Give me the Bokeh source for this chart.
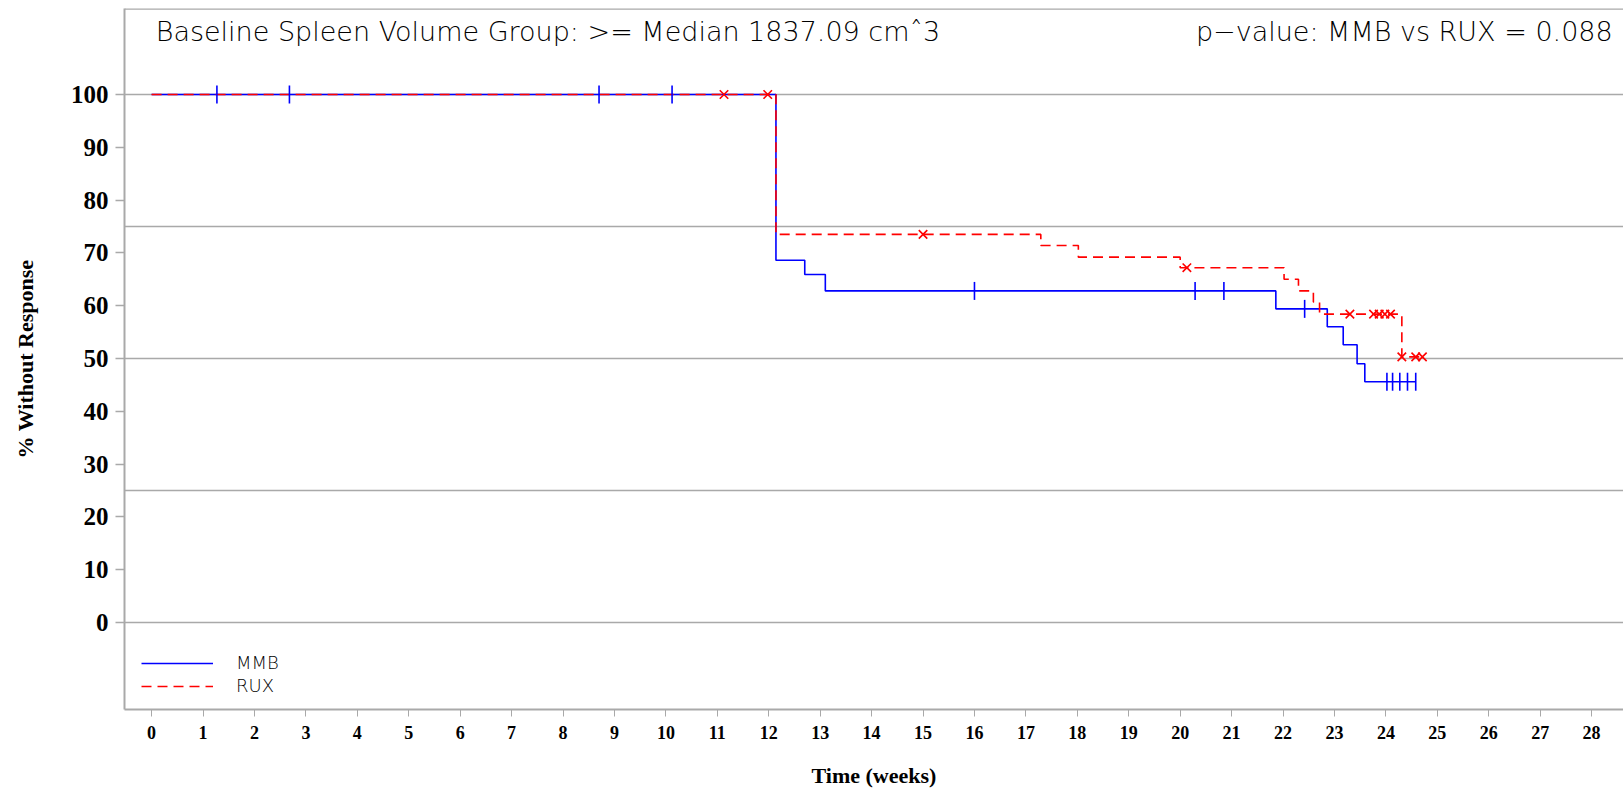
import numpy as np
from bokeh.plotting import figure
from bokeh.models import (FixedTicker, Range1d, Label, Legend, LegendItem, Span)
from bokeh.embed import file_html
from bokeh.resources import INLINE

# ---------------- data ----------------
# MMB Kaplan-Meier step curve (weeks, % without response)
mmb_time = [0, 12.14, 12.70, 13.10, 21.86, 22.86, 23.17, 23.44, 23.59, 24.58]
mmb_surv = [100, 68.6, 65.9, 62.8, 59.4, 56.0, 52.6, 49.0, 45.6, 45.6]
# MMB censored observations
mmb_cens_time = [1.27, 2.68, 8.70, 10.12, 16.0, 20.29, 20.85, 22.42,
                 24.02, 24.13, 24.27, 24.42, 24.58]
mmb_cens_surv = [100, 100, 100, 100, 62.8, 62.8, 62.8, 59.4,
                 45.6, 45.6, 45.6, 45.6, 45.6]

# RUX Kaplan-Meier step curve
rux_time = [0, 12.14, 17.29, 18.02, 20.0, 22.02, 22.30, 22.59, 22.71, 24.31, 24.71]
rux_surv = [100, 73.5, 71.4, 69.2, 67.2, 65.0, 62.8, 60.7, 58.4, 50.3, 50.3]
# RUX censored observations
rux_cens_time = [11.13, 11.98, 15.0, 20.13, 23.30, 23.76, 23.87, 23.98, 24.09,
                 24.31, 24.58, 24.71]
rux_cens_surv = [100, 100, 73.5, 67.2, 58.4, 58.4, 58.4, 58.4, 58.4,
                 50.3, 50.3, 50.3]

x_ticks = list(range(0, 29))
y_ticks = list(range(0, 101, 10))
ref_lines = [0, 25, 50, 75, 100]

title_text = "Baseline Spleen Volume Group: >= Median 1837.09 cm\u02c63"
pvalue_text = "p\u2212value: MMB vs RUX = 0.088"
x_label = "Time (weeks)"
y_label = "% Without Response"
series_names = ["MMB", "RUX"]

# ---------------- styling ----------------
GRAY = "#a9a9a9"
BLUE = "#0000ff"
RED = "#ff0000"
THIN = "DejaVu Sans ExtraLight, DejaVu Sans Light, Lato Light"
SERIF = "Liberation Serif"

x0, x1 = -0.527, 28.62
y0, y1 = -16.48, 116.29

p = figure(width=1623, height=790, output_backend="svg", toolbar_location=None,
           x_range=Range1d(x0, x1), y_range=Range1d(y0, y1),
           min_border_left=124, min_border_right=0, min_border_top=8,
           min_border_bottom=81)
p.outline_line_color = None
p.background_fill_color = "white"
p.border_fill_color = "white"

# grid: reference lines only
p.xgrid.visible = False
p.ygrid.ticker = FixedTicker(ticks=ref_lines)
p.ygrid.grid_line_color = GRAY
p.ygrid.grid_line_width = 1.5

# top border
p.add_layout(Span(location=y1, dimension="width", line_color=GRAY, line_width=2.5))

# y axis
ya = p.yaxis[0]
ya.ticker = FixedTicker(ticks=y_ticks)
ya.axis_line_color = GRAY
ya.axis_line_width = 2
ya.major_tick_line_color = GRAY
ya.major_tick_line_width = 1.5
ya.major_tick_out = 9
ya.major_tick_in = 0
ya.minor_tick_line_color = None
ya.major_label_text_font = SERIF
ya.major_label_text_font_style = "bold"
ya.major_label_text_font_size = "25px"
ya.major_label_text_color = "black"
ya.major_label_standoff = 7
ya.axis_label = y_label
ya.axis_label_text_font = SERIF
ya.axis_label_text_font_style = "bold"
ya.axis_label_text_font_size = "22px"
ya.axis_label_text_color = "black"
ya.axis_label_standoff = 30

# x axis
xa = p.xaxis[0]
xa.ticker = FixedTicker(ticks=x_ticks)
xa.axis_line_color = GRAY
xa.axis_line_width = 2
xa.major_tick_line_color = GRAY
xa.major_tick_line_width = 1
xa.major_tick_out = 7
xa.major_tick_in = 0
xa.minor_tick_line_color = None
xa.major_label_text_font = SERIF
xa.major_label_text_font_style = "bold"
xa.major_label_text_font_size = "18px"
xa.major_label_text_color = "black"
xa.major_label_standoff = 9
xa.axis_label = x_label
xa.axis_label_text_font = SERIF
xa.axis_label_text_font_style = "bold"
xa.axis_label_text_font_size = "22px"
xa.axis_label_text_color = "black"
xa.axis_label_standoff = 21

# curves
r_mmb = p.step(mmb_time, mmb_surv, mode="after", line_color=BLUE, line_width=1.6)
r_rux = p.step(rux_time, rux_surv, mode="after", line_color=RED, line_width=1.6,
               line_dash="10 6")

# censor marks
p.scatter(mmb_cens_time, mmb_cens_surv, marker="dash", angle=np.pi / 2, size=18,
          line_color=BLUE, line_width=1.6)
p.scatter(rux_cens_time, rux_cens_surv, marker="x", size=12,
          line_color=RED, line_width=1.6)

# header texts
p.add_layout(Label(x=0.08, y=112.0, text=title_text, text_font=THIN,
                   text_font_size="27px", text_baseline="middle", text_align="left",
                   text_color="black"))
p.add_layout(Label(x=28.41, y=112.0, text=pvalue_text, text_font=THIN,
                   text_font_size="27px", text_baseline="middle", text_align="right",
                   text_color="black"))

# legend
legend = Legend(items=[LegendItem(label=series_names[0], renderers=[r_mmb]),
                       LegendItem(label=series_names[1], renderers=[r_rux])],
                location=(17, 13), orientation="vertical",
                glyph_width=72, glyph_height=20, label_height=20,
                label_standoff=23, spacing=2, padding=0, margin=0,
                border_line_color=None, background_fill_alpha=0,
                label_text_font=THIN, label_text_font_size="18px",
                label_text_color="black")
p.add_layout(legend, "center")

open("out.html", "w").write(file_html(p, INLINE))
